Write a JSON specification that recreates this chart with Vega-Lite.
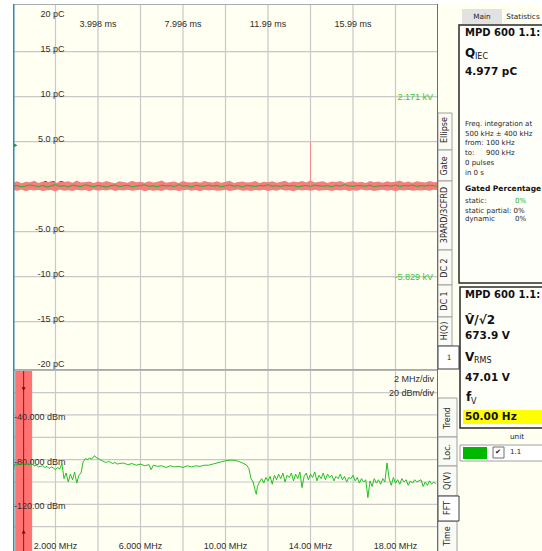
{
  "$schema": "https://vega.github.io/schema/vega-lite/v6.json",
  "padding": {"left": 13, "top": 4, "right": 0, "bottom": 0},
  "background": "#ffffff",
  "spacing": 0,
  "config": {
    "view": {"stroke": null, "fill": "#fffff2"},
    "axis": {"disable": true},
    "legend": {"disable": true},
    "concat": {"spacing": 0},
    "text": {"font": "Liberation Sans", "fontSize": 9, "color": "#2e2e2e"}
  },
  "datasets": {
    "gridX": [{"t": 2}, {"t": 4}, {"t": 6}, {"t": 8}, {"t": 10}, {"t": 12}, {"t": 14}, {"t": 16}, {"t": 18}],
    "edgeLeft": [{"t": 0}],
    "edgeRight": [{"t": 20}],
    "topGridY": [{"q": -15}, {"q": -10}, {"q": -5}, {"q": 0}, {"q": 5}, {"q": 10}, {"q": 15}],
    "topFrameY": [{"q": 20.3}, {"q": -20.367}],
    "topYLabels": [
      {"q": 20, "label": "20 pC"}, {"q": 15, "label": "15 pC"}, {"q": 10, "label": "10 pC"},
      {"q": 5, "label": "5.0 pC"}, {"q": 0, "label": "0.0 C"}, {"q": -5, "label": "-5.0 pC"},
      {"q": -10, "label": "-10 pC"}, {"q": -15, "label": "-15 pC"}, {"q": -20, "label": "-20 pC"}
    ],
    "topTimeLabels": [
      {"t": 4, "label": "3.998 ms"}, {"t": 8, "label": "7.996 ms"},
      {"t": 12, "label": "11.99 ms"}, {"t": 16, "label": "15.99 ms"}
    ],
    "kvLabels": [
      {"q": 10, "label": "2.171 kV"}, {"q": 0, "label": "-1.829 kV"}, {"q": -10, "label": "-5.829 kV"}
    ],
    "pdPulse": [{"t": 14, "base": 0, "q": 4.977}],
    "trigger": [{"t": 0.12, "q": 4.6}],
    "pdTrace": [
      {"t":0,"hi":0.45,"lo":-0.38,"g":0.05},{"t":0.2,"hi":0.6,"lo":-0.46,"g":0.12},{"t":0.4,"hi":0.38,"lo":-0.3,"g":-0.02},{"t":0.6,"hi":0.55,"lo":-0.5,"g":0.08},{"t":0.8,"hi":0.5,"lo":-0.35,"g":0.2},
      {"t":1,"hi":0.66,"lo":-0.42,"g":0.1},{"t":1.2,"hi":0.42,"lo":-0.33,"g":0},{"t":1.4,"hi":0.58,"lo":-0.48,"g":0.15},{"t":1.6,"hi":0.47,"lo":-0.4,"g":-0.05},{"t":1.8,"hi":0.62,"lo":-0.36,"g":0.1},
      {"t":2,"hi":0.4,"lo":-0.52,"g":0.25},{"t":2.2,"hi":0.55,"lo":-0.31,"g":0.05},{"t":2.4,"hi":0.51,"lo":-0.44,"g":0.12},{"t":2.6,"hi":0.6,"lo":-0.39,"g":-0.03},{"t":2.8,"hi":0.44,"lo":-0.47,"g":0.18},
      {"t":3,"hi":0.68,"lo":-0.34,"g":0.08},{"t":3.2,"hi":0.48,"lo":-0.41,"g":0.02},{"t":3.4,"hi":0.53,"lo":-0.37,"g":0.22},{"t":3.6,"hi":0.59,"lo":-0.5,"g":0.1},{"t":3.8,"hi":0.41,"lo":-0.32,"g":0},
      {"t":4,"hi":0.57,"lo":-0.45,"g":0.14},{"t":4.2,"hi":0.46,"lo":-0.38,"g":0.06},{"t":4.4,"hi":0.63,"lo":-0.43,"g":-0.04},{"t":4.6,"hi":0.5,"lo":-0.3,"g":0.11},{"t":4.8,"hi":0.39,"lo":-0.49,"g":0.19},
      {"t":5,"hi":0.6,"lo":-0.36,"g":0.03},{"t":5.2,"hi":0.52,"lo":-0.42,"g":0.09},{"t":5.4,"hi":0.45,"lo":-0.35,"g":0.16},{"t":5.6,"hi":0.65,"lo":-0.46,"g":-0.02},{"t":5.8,"hi":0.49,"lo":-0.4,"g":0.07},
      {"t":6,"hi":0.56,"lo":-0.33,"g":0.13},{"t":6.2,"hi":0.43,"lo":-0.51,"g":0.21},{"t":6.4,"hi":0.61,"lo":-0.37,"g":0.04},{"t":6.6,"hi":0.47,"lo":-0.44,"g":0.1},{"t":6.8,"hi":0.54,"lo":-0.39,"g":-0.01},
      {"t":7,"hi":0.7,"lo":-0.47,"g":0.17},{"t":7.2,"hi":0.45,"lo":-0.31,"g":0.08},{"t":7.4,"hi":0.52,"lo":-0.42,"g":0.12},{"t":7.6,"hi":0.58,"lo":-0.36,"g":0.02},{"t":7.8,"hi":0.4,"lo":-0.48,"g":0.24},
      {"t":8,"hi":0.62,"lo":-0.4,"g":0.06},{"t":8.2,"hi":0.5,"lo":-0.34,"g":0.11},{"t":8.4,"hi":0.46,"lo":-0.45,"g":-0.03},{"t":8.6,"hi":0.57,"lo":-0.38,"g":0.15},{"t":8.8,"hi":0.43,"lo":-0.5,"g":0.09},
      {"t":9,"hi":0.64,"lo":-0.33,"g":0.04},{"t":9.2,"hi":0.51,"lo":-0.43,"g":0.18},{"t":9.4,"hi":0.48,"lo":-0.37,"g":0.07},{"t":9.6,"hi":0.6,"lo":-0.46,"g":0.13},{"t":9.8,"hi":0.44,"lo":-0.41,"g":0},
      {"t":10,"hi":0.55,"lo":-0.35,"g":0.1},{"t":10.2,"hi":0.67,"lo":-0.49,"g":0.2},{"t":10.4,"hi":0.42,"lo":-0.39,"g":0.05},{"t":10.6,"hi":0.53,"lo":-0.32,"g":0.12},{"t":10.8,"hi":0.59,"lo":-0.44,"g":-0.04},
      {"t":11,"hi":0.47,"lo":-0.4,"g":0.16},{"t":11.2,"hi":0.5,"lo":-0.47,"g":0.08},{"t":11.4,"hi":0.63,"lo":-0.36,"g":0.03},{"t":11.6,"hi":0.41,"lo":-0.42,"g":0.14},{"t":11.8,"hi":0.56,"lo":-0.34,"g":0.1},
      {"t":12,"hi":0.49,"lo":-0.48,"g":0.22},{"t":12.2,"hi":0.6,"lo":-0.38,"g":0.06},{"t":12.4,"hi":0.45,"lo":-0.45,"g":0.11},{"t":12.6,"hi":0.54,"lo":-0.31,"g":0.01},{"t":12.8,"hi":0.66,"lo":-0.43,"g":0.17},
      {"t":13,"hi":0.43,"lo":-0.39,"g":0.09},{"t":13.2,"hi":0.58,"lo":-0.5,"g":0.13},{"t":13.4,"hi":0.5,"lo":-0.35,"g":-0.02},{"t":13.6,"hi":0.62,"lo":-0.41,"g":0.08},{"t":13.8,"hi":0.46,"lo":-0.37,"g":0.15},
      {"t":14,"hi":0.72,"lo":-0.46,"g":0.04},{"t":14.2,"hi":0.48,"lo":-0.33,"g":0.19},{"t":14.4,"hi":0.55,"lo":-0.44,"g":0.1},{"t":14.6,"hi":0.6,"lo":-0.4,"g":0.06},{"t":14.8,"hi":0.42,"lo":-0.38,"g":0.12},
      {"t":15,"hi":0.57,"lo":-0.49,"g":0},{"t":15.2,"hi":0.51,"lo":-0.36,"g":0.16},{"t":15.4,"hi":0.64,"lo":-0.42,"g":0.07},{"t":15.6,"hi":0.45,"lo":-0.34,"g":0.23},{"t":15.8,"hi":0.53,"lo":-0.47,"g":0.09},
      {"t":16,"hi":0.6,"lo":-0.39,"g":0.03},{"t":16.2,"hi":0.47,"lo":-0.45,"g":0.14},{"t":16.4,"hi":0.56,"lo":-0.32,"g":0.1},{"t":16.6,"hi":0.41,"lo":-0.43,"g":0.05},{"t":16.8,"hi":0.63,"lo":-0.37,"g":0.18},
      {"t":17,"hi":0.5,"lo":-0.48,"g":-0.01},{"t":17.2,"hi":0.58,"lo":-0.4,"g":0.11},{"t":17.4,"hi":0.44,"lo":-0.35,"g":0.08},{"t":17.6,"hi":0.61,"lo":-0.44,"g":0.15},{"t":17.8,"hi":0.49,"lo":-0.38,"g":0.06},
      {"t":18,"hi":0.54,"lo":-0.51,"g":0.2},{"t":18.2,"hi":0.68,"lo":-0.36,"g":0.02},{"t":18.4,"hi":0.46,"lo":-0.42,"g":0.13},{"t":18.6,"hi":0.57,"lo":-0.33,"g":0.09},{"t":18.8,"hi":0.43,"lo":-0.46,"g":0.17},
      {"t":19,"hi":0.6,"lo":-0.39,"g":0.04},{"t":19.2,"hi":0.52,"lo":-0.41,"g":0.12},{"t":19.4,"hi":0.47,"lo":-0.37,"g":0.07},{"t":19.6,"hi":0.62,"lo":-0.45,"g":0.16},{"t":19.8,"hi":0.5,"lo":-0.34,"g":0.1},
      {"t":20,"hi":0.55,"lo":-0.4,"g":0.05}
    ],
    "fftGridY": [{"dbm": -20}, {"dbm": -40}, {"dbm": -60}, {"dbm": -80}, {"dbm": -100}, {"dbm": -120}, {"dbm": -140}],
    "fftFrameY": [{"dbm": 0.27}],
    "fftBand": [{"lo": 0.1, "hi": 0.9, "center": 0.5, "bottom": -161.8, "top": 0.27}],
    "fftArrows": [{"f": 0.5, "dbm": -16.7, "dir": "down"}, {"f": 0.5, "dbm": -144.5, "dir": "up"}],
    "fftYLabels": [{"dbm": -40, "label": "-40.000 dBm"}, {"dbm": -80, "label": "-80.000 dBm"}, {"dbm": -120, "label": "-120.00 dBm"}],
    "fftXLabels": [
      {"f": 2, "label": "2.000 MHz"}, {"f": 6, "label": "6.000 MHz"}, {"f": 10, "label": "10.00 MHz"},
      {"f": 14, "label": "14.00 MHz"}, {"f": 18, "label": "18.00 MHz"}
    ],
    "fftScale": [{"dbm": -7.8, "label": "2 MHz/div"}, {"dbm": -20, "label": "20 dBm/div"}],
    "fft": [
      {"f":0,"dbm":-93},{"f":0.05,"dbm":-86},{"f":0.1,"dbm":-84},{"f":0.2,"dbm":-84.5},{"f":0.3,"dbm":-84},{"f":0.4,"dbm":-83.5},{"f":0.5,"dbm":-84.5},{"f":0.6,"dbm":-84},{"f":0.7,"dbm":-83.5},{"f":0.8,"dbm":-84.5},{"f":0.9,"dbm":-84},
      {"f":1.0,"dbm":-85.5},{"f":1.1,"dbm":-85},{"f":1.2,"dbm":-86.5},{"f":1.3,"dbm":-86},{"f":1.4,"dbm":-85.5},{"f":1.5,"dbm":-87},{"f":1.6,"dbm":-86},{"f":1.7,"dbm":-88},{"f":1.8,"dbm":-86.5},{"f":1.9,"dbm":-87.5},
      {"f":2.0,"dbm":-89},{"f":2.1,"dbm":-87},{"f":2.2,"dbm":-88.5},{"f":2.3,"dbm":-83.5},{"f":2.4,"dbm":-97},{"f":2.5,"dbm":-92},{"f":2.6,"dbm":-100},{"f":2.7,"dbm":-93},{"f":2.8,"dbm":-98},{"f":2.9,"dbm":-91},
      {"f":3.0,"dbm":-101},{"f":3.1,"dbm":-94},{"f":3.2,"dbm":-92},{"f":3.3,"dbm":-82},{"f":3.4,"dbm":-79},{"f":3.5,"dbm":-80},{"f":3.6,"dbm":-78.5},{"f":3.7,"dbm":-79.5},{"f":3.8,"dbm":-77},{"f":3.85,"dbm":-76.5},{"f":3.9,"dbm":-78},
      {"f":4.0,"dbm":-79},{"f":4.1,"dbm":-80},{"f":4.2,"dbm":-81},{"f":4.3,"dbm":-82},{"f":4.4,"dbm":-82.5},{"f":4.5,"dbm":-81.5},{"f":4.6,"dbm":-82.5},{"f":4.7,"dbm":-83.5},{"f":4.8,"dbm":-82.5},{"f":4.9,"dbm":-84},
      {"f":5.0,"dbm":-83.5},{"f":5.2,"dbm":-83},{"f":5.4,"dbm":-84.5},{"f":5.6,"dbm":-83.5},{"f":5.8,"dbm":-85},{"f":6.0,"dbm":-84},{"f":6.2,"dbm":-85.5},{"f":6.4,"dbm":-84.5},{"f":6.5,"dbm":-89},{"f":6.6,"dbm":-85},
      {"f":6.8,"dbm":-86},{"f":7.0,"dbm":-85.5},{"f":7.2,"dbm":-87},{"f":7.4,"dbm":-85.5},{"f":7.6,"dbm":-86.5},{"f":7.8,"dbm":-86},{"f":8.0,"dbm":-87},{"f":8.2,"dbm":-85.5},{"f":8.4,"dbm":-86.5},{"f":8.6,"dbm":-85.5},
      {"f":8.8,"dbm":-86},{"f":9.0,"dbm":-85},{"f":9.2,"dbm":-85},{"f":9.4,"dbm":-84},{"f":9.6,"dbm":-83},{"f":9.8,"dbm":-82},{"f":10.0,"dbm":-81},{"f":10.2,"dbm":-80.5},{"f":10.4,"dbm":-80.5},{"f":10.6,"dbm":-81.5},
      {"f":10.8,"dbm":-83},{"f":11.0,"dbm":-85},{"f":11.1,"dbm":-88},{"f":11.2,"dbm":-97},{"f":11.3,"dbm":-100},{"f":11.4,"dbm":-108},{"f":11.45,"dbm":-111},{"f":11.5,"dbm":-104},{"f":11.6,"dbm":-100},{"f":11.7,"dbm":-97},
      {"f":11.8,"dbm":-101},{"f":11.9,"dbm":-96},{"f":12.0,"dbm":-99},{"f":12.1,"dbm":-95},{"f":12.2,"dbm":-102},{"f":12.3,"dbm":-94},{"f":12.4,"dbm":-98},{"f":12.5,"dbm":-93},{"f":12.6,"dbm":-97},{"f":12.7,"dbm":-92},
      {"f":12.8,"dbm":-100},{"f":12.9,"dbm":-94},{"f":13.0,"dbm":-96},{"f":13.1,"dbm":-92},{"f":13.2,"dbm":-99},{"f":13.3,"dbm":-93},{"f":13.4,"dbm":-97},{"f":13.5,"dbm":-91},{"f":13.6,"dbm":-105},{"f":13.7,"dbm":-95},
      {"f":13.8,"dbm":-92},{"f":13.9,"dbm":-98},{"f":14.0,"dbm":-93},{"f":14.1,"dbm":-96},{"f":14.2,"dbm":-91},{"f":14.3,"dbm":-99},{"f":14.4,"dbm":-94},{"f":14.5,"dbm":-97},{"f":14.6,"dbm":-92},{"f":14.7,"dbm":-98},
      {"f":14.8,"dbm":-93},{"f":14.9,"dbm":-96},{"f":15.0,"dbm":-94},{"f":15.1,"dbm":-99},{"f":15.2,"dbm":-95},{"f":15.3,"dbm":-97},{"f":15.4,"dbm":-93},{"f":15.5,"dbm":-98},{"f":15.6,"dbm":-95},{"f":15.7,"dbm":-100},
      {"f":15.8,"dbm":-96},{"f":15.9,"dbm":-97},{"f":16.0,"dbm":-94},{"f":16.1,"dbm":-99},{"f":16.2,"dbm":-96},{"f":16.3,"dbm":-101},{"f":16.4,"dbm":-97},{"f":16.5,"dbm":-100},{"f":16.6,"dbm":-98},{"f":16.7,"dbm":-114},
      {"f":16.8,"dbm":-99},{"f":16.9,"dbm":-104},{"f":17.0,"dbm":-97},{"f":17.1,"dbm":-101},{"f":17.2,"dbm":-98},{"f":17.3,"dbm":-102},{"f":17.4,"dbm":-97},{"f":17.5,"dbm":-100},{"f":17.6,"dbm":-83},{"f":17.7,"dbm":-97},
      {"f":17.8,"dbm":-103},{"f":17.9,"dbm":-96},{"f":18.0,"dbm":-101},{"f":18.1,"dbm":-98},{"f":18.2,"dbm":-102},{"f":18.3,"dbm":-97},{"f":18.4,"dbm":-100},{"f":18.5,"dbm":-98},{"f":18.6,"dbm":-103},{"f":18.7,"dbm":-99},
      {"f":18.8,"dbm":-101},{"f":18.9,"dbm":-98},{"f":19.0,"dbm":-100},{"f":19.1,"dbm":-99},{"f":19.2,"dbm":-98},{"f":19.3,"dbm":-104},{"f":19.4,"dbm":-100},{"f":19.5,"dbm":-103},{"f":19.6,"dbm":-99},{"f":19.7,"dbm":-102},
      {"f":19.8,"dbm":-100},{"f":19.9,"dbm":-102}
    ],
    "chromeRects": [
      {"kind":"tab","x":438,"x2":452,"y":113,"y2":150},
      {"kind":"tab","x":438,"x2":452,"y":150,"y2":181},
      {"kind":"tab","x":438,"x2":452,"y":181,"y2":250},
      {"kind":"tab","x":438,"x2":452,"y":250,"y2":285},
      {"kind":"tab","x":438,"x2":452,"y":285,"y2":317},
      {"kind":"tab","x":438,"x2":452,"y":317,"y2":346},
      {"kind":"tab","x":438,"x2":457,"y":398,"y2":437},
      {"kind":"tab","x":438,"x2":457,"y":437,"y2":466},
      {"kind":"tab","x":438,"x2":457,"y":466,"y2":496},
      {"kind":"tab","x":438,"x2":457,"y":521,"y2":553},
      {"kind":"tabsel","x":438,"x2":459,"y":346,"y2":369},
      {"kind":"tabsel","x":438,"x2":459,"y":496,"y2":521},
      {"kind":"box","x":459,"x2":545,"y":25,"y2":283},
      {"kind":"box","x":460,"x2":545,"y":287,"y2":428},
      {"kind":"maintab","x":462,"x2":502,"y":9,"y2":24},
      {"kind":"yellow","x":463,"x2":542,"y":410,"y2":424},
      {"kind":"legendbox","x":460,"x2":545,"y":445,"y2":461},
      {"kind":"swatch","x":463,"x2":487,"y":447,"y2":459},
      {"kind":"check","x":493,"x2":504,"y":447,"y2":458}
    ],
    "chromeText": [
      {"kind":"rot","x":445,"y":130,"label":"Ellipse"},
      {"kind":"rot","x":445,"y":166,"label":"Gate"},
      {"kind":"rot","x":445,"y":215,"label":"3PARD/3CFRD"},
      {"kind":"rot","x":445,"y":268,"label":"DC 2"},
      {"kind":"rot","x":445,"y":301,"label":"DC 1"},
      {"kind":"rot","x":445,"y":331,"label":"H(Q)"},
      {"kind":"rot","x":448,"y":418,"label":"Trend"},
      {"kind":"rot","x":448,"y":452,"label":"Loc."},
      {"kind":"rot","x":448,"y":481,"label":"Q(V)"},
      {"kind":"rot","x":448,"y":508,"label":"FFT"},
      {"kind":"rot","x":448,"y":536,"label":"Time"},
      {"kind":"center","x":449,"y":358,"label":"1"},
      {"kind":"center","x":482,"y":17,"label":"Main"},
      {"kind":"center","x":523,"y":17,"label":"Statistics"},
      {"kind":"center","x":517,"y":437,"label":"unit"},
      {"kind":"center","x":498,"y":452,"label":"✔"},
      {"kind":"head","x":465,"y":33,"label":"MPD 600 1.1:"},
      {"kind":"head","x":465,"y":295,"label":"MPD 600 1.1:"},
      {"kind":"value","x":465,"y":72,"label":"4.977 pC"},
      {"kind":"value","x":465,"y":336,"label":"673.9 V"},
      {"kind":"value","x":465,"y":378,"label":"47.01 V"},
      {"kind":"value","x":465,"y":417,"label":"50.00 Hz"},
      {"kind":"sym","x":465,"y":53,"label":"Q"},
      {"kind":"sym","x":465,"y":320,"label":"V\u0302/\u221a2"},
      {"kind":"sym","x":465,"y":357,"label":"V"},
      {"kind":"sym","x":466,"y":397,"label":"f"},
      {"kind":"sub","x":475,"y":57,"label":"IEC"},
      {"kind":"sub","x":474,"y":361,"label":"RMS"},
      {"kind":"sub","x":471,"y":402,"label":"V"},
      {"kind":"small","x":465,"y":124,"label":"Freq. integration at"},
      {"kind":"small","x":465,"y":134,"label":"500 kHz ± 400 kHz"},
      {"kind":"small","x":465,"y":143,"label":"from:"},
      {"kind":"small","x":486,"y":143,"label":"100 kHz"},
      {"kind":"small","x":465,"y":153,"label":"to:"},
      {"kind":"small","x":486,"y":153,"label":"900 kHz"},
      {"kind":"small","x":465,"y":163,"label":"0 pulses"},
      {"kind":"small","x":465,"y":173,"label":"in 0 s"},
      {"kind":"small","x":465,"y":201,"label":"static:"},
      {"kind":"small","x":465,"y":211,"label":"static partial: 0%"},
      {"kind":"small","x":465,"y":219,"label":"dynamic"},
      {"kind":"small","x":515,"y":219,"label":"0%"},
      {"kind":"small","x":510,"y":452,"label":"1.1"},
      {"kind":"green","x":515,"y":201,"label":"0%"},
      {"kind":"boldsmall","x":465,"y":189,"label":"Gated Percentage"}
    ]
  },
  "hconcat": [
    {
      "spacing": 0,
      "vconcat": [
        {
          "width": 425,
          "height": 366,
          "layer": [
            {
              "data": {"name": "gridX"},
              "mark": {"type": "rule", "color": "#c8c8c8", "strokeWidth": 1.2, "clip": true},
              "encoding": {"x": {"field": "t", "type": "quantitative", "scale": {"domain": [0, 20], "nice": false, "zero": false}}}
            },
            {
              "data": {"name": "topGridY"},
              "mark": {"type": "rule", "color": "#c8c8c8", "strokeWidth": 1.2, "clip": true},
              "encoding": {"y": {"field": "q", "type": "quantitative", "scale": {"domain": [-20.367, 20.3], "nice": false, "zero": false}}}
            },
            {
              "data": {"name": "topYLabels"},
              "transform": [{"filter": "datum.q < 20"}],
              "mark": {"type": "text", "align": "right", "baseline": "alphabetic", "dx": 9},
              "encoding": {
                "x": {"datum": 2, "type": "quantitative"},
                "y": {"field": "q", "type": "quantitative"},
                "text": {"field": "label", "type": "nominal"}
              }
            },
            {
              "data": {"name": "topYLabels"},
              "transform": [{"filter": "datum.q >= 20"}],
              "mark": {"type": "text", "align": "right", "baseline": "alphabetic", "dx": 9, "dy": 10},
              "encoding": {
                "x": {"datum": 2, "type": "quantitative"},
                "y": {"field": "q", "type": "quantitative"},
                "text": {"field": "label", "type": "nominal"}
              }
            },
            {
              "data": {"name": "topTimeLabels"},
              "mark": {"type": "text", "align": "center", "baseline": "middle", "dy": 17},
              "encoding": {
                "x": {"field": "t", "type": "quantitative"},
                "y": {"datum": 20, "type": "quantitative"},
                "text": {"field": "label", "type": "nominal"}
              }
            },
            {
              "data": {"name": "kvLabels"},
              "mark": {"type": "text", "align": "right", "baseline": "middle", "dx": -5, "color": "#2ecc2e"},
              "encoding": {
                "x": {"datum": 20, "type": "quantitative"},
                "y": {"field": "q", "type": "quantitative"},
                "text": {"field": "label", "type": "nominal"}
              }
            },
            {
              "data": {"name": "pdTrace"},
              "mark": {"type": "area", "color": "#f27878", "opacity": 0.95, "clip": true},
              "encoding": {
                "x": {"field": "t", "type": "quantitative"},
                "y": {"field": "lo", "type": "quantitative"},
                "y2": {"field": "hi"}
              }
            },
            {
              "data": {"name": "pdPulse"},
              "mark": {"type": "rule", "color": "#f08c8c", "strokeWidth": 1, "clip": true},
              "encoding": {
                "x": {"field": "t", "type": "quantitative"},
                "y": {"field": "base", "type": "quantitative"},
                "y2": {"field": "q"}
              }
            },
            {
              "data": {"name": "pdTrace"},
              "mark": {"type": "line", "color": "#1fb81f", "strokeWidth": 1, "clip": true},
              "encoding": {
                "x": {"field": "t", "type": "quantitative"},
                "y": {"field": "g", "type": "quantitative"}
              }
            },
            {
              "data": {"name": "trigger"},
              "mark": {"type": "point", "shape": "triangle-right", "filled": true, "color": "#12a012", "size": 18, "opacity": 1, "clip": true},
              "encoding": {
                "x": {"field": "t", "type": "quantitative"},
                "y": {"field": "q", "type": "quantitative"}
              }
            },
            {
              "data": {"name": "topFrameY"},
              "mark": {"type": "rule", "color": "#a3adb2", "strokeWidth": 2, "clip": true},
              "encoding": {"y": {"field": "q", "type": "quantitative"}}
            },
            {
              "data": {"name": "edgeRight"},
              "mark": {"type": "rule", "color": "#6e6e6e", "strokeWidth": 2, "clip": true},
              "encoding": {"x": {"field": "t", "type": "quantitative"}}
            },
            {
              "data": {"name": "edgeLeft"},
              "mark": {"type": "rule", "color": "#2b8cb4", "strokeWidth": 3, "clip": true},
              "encoding": {"x": {"field": "t", "type": "quantitative"}}
            }
          ]
        },
        {
          "width": 425,
          "height": 181,
          "layer": [
            {
              "data": {"name": "gridX"},
              "mark": {"type": "rule", "color": "#c8c8c8", "strokeWidth": 1.2, "clip": true},
              "encoding": {"x": {"field": "t", "type": "quantitative", "scale": {"domain": [0, 20], "nice": false, "zero": false}}}
            },
            {
              "data": {"name": "fftGridY"},
              "mark": {"type": "rule", "color": "#c8c8c8", "strokeWidth": 1.2, "clip": true},
              "encoding": {"y": {"field": "dbm", "type": "quantitative", "scale": {"domain": [-161.8, 0.27], "nice": false, "zero": false}}}
            },
            {
              "data": {"name": "fftBand"},
              "mark": {"type": "rect", "color": "#ff7373", "opacity": 1, "clip": true},
              "encoding": {
                "x": {"field": "lo", "type": "quantitative"},
                "x2": {"field": "hi"},
                "y": {"field": "bottom", "type": "quantitative"},
                "y2": {"field": "top"}
              }
            },
            {
              "data": {"name": "fftYLabels"},
              "mark": {"type": "text", "align": "right", "baseline": "middle", "dx": 10, "dy": 2},
              "encoding": {
                "x": {"datum": 2, "type": "quantitative"},
                "y": {"field": "dbm", "type": "quantitative"},
                "text": {"field": "label", "type": "nominal"}
              }
            },
            {
              "data": {"name": "fft"},
              "mark": {"type": "line", "color": "#22c022", "strokeWidth": 1, "clip": true},
              "encoding": {
                "x": {"field": "f", "type": "quantitative"},
                "y": {"field": "dbm", "type": "quantitative"}
              }
            },
            {
              "data": {"name": "fftBand"},
              "mark": {"type": "rule", "color": "#c40000", "strokeWidth": 1, "clip": true},
              "encoding": {"x": {"field": "center", "type": "quantitative"}}
            },
            {
              "data": {"name": "fftArrows"},
              "mark": {"type": "point", "filled": true, "color": "#7a0000", "size": 16, "opacity": 1, "clip": true},
              "encoding": {
                "x": {"field": "f", "type": "quantitative"},
                "y": {"field": "dbm", "type": "quantitative"},
                "shape": {"field": "dir", "type": "nominal", "scale": {"domain": ["down", "up"], "range": ["triangle-down", "triangle-up"]}, "legend": null}
              }
            },
            {
              "data": {"name": "fftXLabels"},
              "mark": {"type": "text", "align": "center", "baseline": "middle", "dy": -3},
              "encoding": {
                "x": {"field": "f", "type": "quantitative"},
                "y": {"datum": -160, "type": "quantitative"},
                "text": {"field": "label", "type": "nominal"}
              }
            },
            {
              "data": {"name": "fftScale"},
              "mark": {"type": "text", "align": "right", "baseline": "middle", "dx": -4},
              "encoding": {
                "x": {"datum": 20, "type": "quantitative"},
                "y": {"field": "dbm", "type": "quantitative"},
                "text": {"field": "label", "type": "nominal"}
              }
            },
            {
              "data": {"name": "fftFrameY"},
              "mark": {"type": "rule", "color": "#b4b4b4", "strokeWidth": 2, "clip": true},
              "encoding": {"y": {"field": "dbm", "type": "quantitative"}}
            },
            {
              "data": {"name": "edgeRight"},
              "mark": {"type": "rule", "color": "#6e6e6e", "strokeWidth": 2, "clip": true},
              "encoding": {"x": {"field": "t", "type": "quantitative"}}
            },
            {
              "data": {"name": "edgeLeft"},
              "mark": {"type": "rule", "color": "#2b8cb4", "strokeWidth": 3, "clip": true},
              "encoding": {"x": {"field": "t", "type": "quantitative"}}
            }
          ]
        }
      ]
    },
    {
      "width": 104,
      "height": 547,
      "layer": [
        {
          "data": {"name": "chromeRects"},
          "transform": [{"filter": "datum.kind == 'tab'"}],
          "mark": {"type": "rect", "fill": "#fbfbf5", "stroke": "#a0a0a0", "strokeWidth": 1, "clip": true},
          "encoding": {
            "x": {"field": "x", "type": "quantitative", "scale": {"domain": [438, 542], "nice": false, "zero": false}},
            "x2": {"field": "x2"},
            "y": {"field": "y", "type": "quantitative", "scale": {"domain": [4, 551], "nice": false, "zero": false, "reverse": true}},
            "y2": {"field": "y2"}
          }
        },
        {
          "data": {"name": "chromeRects"},
          "transform": [{"filter": "datum.kind == 'tabsel'"}],
          "mark": {"type": "rect", "fill": "#ffffff", "stroke": "#3c3c3c", "strokeWidth": 1, "clip": true},
          "encoding": {"x": {"field": "x", "type": "quantitative"}, "x2": {"field": "x2"}, "y": {"field": "y", "type": "quantitative"}, "y2": {"field": "y2"}}
        },
        {
          "data": {"name": "chromeRects"},
          "transform": [{"filter": "datum.kind == 'box'"}],
          "mark": {"type": "rect", "fill": "#fffffa", "stroke": "#2a2a2a", "strokeWidth": 1.5, "clip": true},
          "encoding": {"x": {"field": "x", "type": "quantitative"}, "x2": {"field": "x2"}, "y": {"field": "y", "type": "quantitative"}, "y2": {"field": "y2"}}
        },
        {
          "data": {"name": "chromeRects"},
          "transform": [{"filter": "datum.kind == 'maintab'"}],
          "mark": {"type": "rect", "fill": "#e2e2e2", "clip": true},
          "encoding": {"x": {"field": "x", "type": "quantitative"}, "x2": {"field": "x2"}, "y": {"field": "y", "type": "quantitative"}, "y2": {"field": "y2"}}
        },
        {
          "data": {"name": "chromeRects"},
          "transform": [{"filter": "datum.kind == 'yellow'"}],
          "mark": {"type": "rect", "fill": "#ffff00", "clip": true},
          "encoding": {"x": {"field": "x", "type": "quantitative"}, "x2": {"field": "x2"}, "y": {"field": "y", "type": "quantitative"}, "y2": {"field": "y2"}}
        },
        {
          "data": {"name": "chromeRects"},
          "transform": [{"filter": "datum.kind == 'legendbox'"}],
          "mark": {"type": "rect", "fill": "#ffffff", "stroke": "#a0a0a0", "strokeWidth": 1, "clip": true},
          "encoding": {"x": {"field": "x", "type": "quantitative"}, "x2": {"field": "x2"}, "y": {"field": "y", "type": "quantitative"}, "y2": {"field": "y2"}}
        },
        {
          "data": {"name": "chromeRects"},
          "transform": [{"filter": "datum.kind == 'swatch'"}],
          "mark": {"type": "rect", "fill": "#00b800", "clip": true},
          "encoding": {"x": {"field": "x", "type": "quantitative"}, "x2": {"field": "x2"}, "y": {"field": "y", "type": "quantitative"}, "y2": {"field": "y2"}}
        },
        {
          "data": {"name": "chromeRects"},
          "transform": [{"filter": "datum.kind == 'check'"}],
          "mark": {"type": "rect", "fill": "#ffffff", "stroke": "#707070", "strokeWidth": 1, "clip": true},
          "encoding": {"x": {"field": "x", "type": "quantitative"}, "x2": {"field": "x2"}, "y": {"field": "y", "type": "quantitative"}, "y2": {"field": "y2"}}
        },
        {
          "data": {"name": "chromeText"},
          "transform": [{"filter": "datum.kind == 'rot'"}],
          "mark": {"type": "text", "font": "DejaVu Sans", "fontSize": 8, "angle": 270, "align": "center", "baseline": "middle", "color": "#1e1e1e"},
          "encoding": {"x": {"field": "x", "type": "quantitative"}, "y": {"field": "y", "type": "quantitative"}, "text": {"field": "label", "type": "nominal"}}
        },
        {
          "data": {"name": "chromeText"},
          "transform": [{"filter": "datum.kind == 'center'"}],
          "mark": {"type": "text", "font": "DejaVu Sans", "fontSize": 7.3, "align": "center", "baseline": "middle", "color": "#1e1e1e"},
          "encoding": {"x": {"field": "x", "type": "quantitative"}, "y": {"field": "y", "type": "quantitative"}, "text": {"field": "label", "type": "nominal"}}
        },
        {
          "data": {"name": "chromeText"},
          "transform": [{"filter": "datum.kind == 'head'"}],
          "mark": {"type": "text", "font": "DejaVu Sans", "fontSize": 10, "fontWeight": "bold", "align": "left", "baseline": "middle", "color": "#111111"},
          "encoding": {"x": {"field": "x", "type": "quantitative"}, "y": {"field": "y", "type": "quantitative"}, "text": {"field": "label", "type": "nominal"}}
        },
        {
          "data": {"name": "chromeText"},
          "transform": [{"filter": "datum.kind == 'value'"}],
          "mark": {"type": "text", "font": "DejaVu Sans", "fontSize": 10.5, "fontWeight": "bold", "align": "left", "baseline": "middle", "color": "#111111"},
          "encoding": {"x": {"field": "x", "type": "quantitative"}, "y": {"field": "y", "type": "quantitative"}, "text": {"field": "label", "type": "nominal"}}
        },
        {
          "data": {"name": "chromeText"},
          "transform": [{"filter": "datum.kind == 'sym'"}],
          "mark": {"type": "text", "font": "DejaVu Sans", "fontSize": 12, "fontWeight": "bold", "align": "left", "baseline": "middle", "color": "#111111"},
          "encoding": {"x": {"field": "x", "type": "quantitative"}, "y": {"field": "y", "type": "quantitative"}, "text": {"field": "label", "type": "nominal"}}
        },
        {
          "data": {"name": "chromeText"},
          "transform": [{"filter": "datum.kind == 'sub'"}],
          "mark": {"type": "text", "font": "DejaVu Sans", "fontSize": 8, "align": "left", "baseline": "middle", "color": "#111111"},
          "encoding": {"x": {"field": "x", "type": "quantitative"}, "y": {"field": "y", "type": "quantitative"}, "text": {"field": "label", "type": "nominal"}}
        },
        {
          "data": {"name": "chromeText"},
          "transform": [{"filter": "datum.kind == 'small'"}],
          "mark": {"type": "text", "font": "DejaVu Sans", "fontSize": 7, "align": "left", "baseline": "middle", "color": "#1e1e1e"},
          "encoding": {"x": {"field": "x", "type": "quantitative"}, "y": {"field": "y", "type": "quantitative"}, "text": {"field": "label", "type": "nominal"}}
        },
        {
          "data": {"name": "chromeText"},
          "transform": [{"filter": "datum.kind == 'green'"}],
          "mark": {"type": "text", "font": "DejaVu Sans", "fontSize": 7, "align": "left", "baseline": "middle", "color": "#22b022"},
          "encoding": {"x": {"field": "x", "type": "quantitative"}, "y": {"field": "y", "type": "quantitative"}, "text": {"field": "label", "type": "nominal"}}
        },
        {
          "data": {"name": "chromeText"},
          "transform": [{"filter": "datum.kind == 'boldsmall'"}],
          "mark": {"type": "text", "font": "DejaVu Sans", "fontSize": 7.5, "fontWeight": "bold", "align": "left", "baseline": "middle", "color": "#111111"},
          "encoding": {"x": {"field": "x", "type": "quantitative"}, "y": {"field": "y", "type": "quantitative"}, "text": {"field": "label", "type": "nominal"}}
        }
      ]
    }
  ]
}
